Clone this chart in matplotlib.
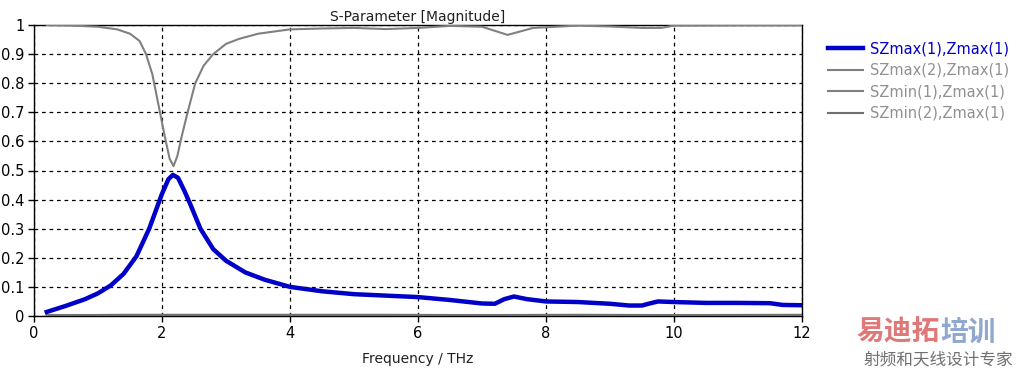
import matplotlib.pyplot as plt
import numpy as np

# blue curve: SZmax(1),Zmax(1)
f_blue = [0.2, 0.5, 0.8, 1.0, 1.2, 1.4, 1.6, 1.8, 1.9, 2.0, 2.1, 2.17, 2.25, 2.35, 2.45, 2.6, 2.8,
          3.0, 3.3, 3.6, 4.0, 4.5, 5.0, 5.5, 6.0, 6.5, 7.0, 7.2, 7.35, 7.5, 7.7, 8.0, 8.5, 9.0,
          9.3, 9.5, 9.6, 9.75, 10.0, 10.5, 11.0, 11.5, 11.7, 12.0]
s_blue = [0.014, 0.035, 0.058, 0.078, 0.105, 0.145, 0.205, 0.3, 0.36, 0.42, 0.47, 0.485, 0.475, 0.43,
          0.38, 0.3, 0.23, 0.19, 0.15, 0.125, 0.1, 0.085, 0.075, 0.07, 0.065, 0.055, 0.043, 0.042,
          0.058, 0.067, 0.058, 0.05, 0.048, 0.042, 0.036, 0.036, 0.042, 0.05, 0.048, 0.045, 0.045,
          0.044, 0.038, 0.037]

# gray curve near 1: SZmax(2),Zmax(1)
f_top = [0.2, 0.6, 1.0, 1.3, 1.5, 1.65, 1.75, 1.85, 1.95, 2.05, 2.12, 2.18, 2.24, 2.3, 2.4, 2.52,
         2.65, 2.8, 3.0, 3.2, 3.5, 4.0, 4.5, 5.0, 5.5, 6.0, 6.5, 7.0, 7.2, 7.4, 7.6, 7.8, 8.5,
         9.0, 9.5, 9.8, 10.0, 11.0, 12.0]
s_top = [1.0, 0.998, 0.994, 0.985, 0.97, 0.945, 0.9, 0.83, 0.72, 0.61, 0.54, 0.515, 0.55, 0.61,
         0.7, 0.8, 0.86, 0.9, 0.935, 0.952, 0.97, 0.985, 0.988, 0.99, 0.986, 0.99, 0.997, 0.994,
         0.98, 0.966, 0.978, 0.99, 0.998, 0.995, 0.99, 0.99, 0.998, 0.999, 0.999]

# gray curves near 0: SZmin(1),Zmax(1) and SZmin(2),Zmax(1)
f_low = [0.2, 1.4, 3.0, 5.5, 6.9, 8.5, 10.0, 12.0]
s_low1 = [0.003, 0.003, 0.003, 0.003, 0.003, 0.003, 0.003, 0.003]
s_low2 = [0.002, 0.004, 0.004, 0.004, 0.003, 0.004, 0.003, 0.004]

labels = ['SZmax(1),Zmax(1)', 'SZmax(2),Zmax(1)', 'SZmin(1),Zmax(1)', 'SZmin(2),Zmax(1)']

blue = '#0000c8'
gray = '#808080'

fig = plt.figure(figsize=(10.16, 3.73), dpi=100)
ax = fig.add_axes([34 / 1016, 57 / 373, 768 / 1016, 291 / 373])

h1, = ax.plot(f_blue, s_blue, color=blue, lw=3.2, zorder=5)
h2, = ax.plot(f_top, s_top, color=gray, lw=1.5, zorder=4)
h3, = ax.plot(f_low, s_low1, color=gray, lw=1.5, zorder=4)
h4, = ax.plot(f_low, s_low2, color='#707070', lw=1.5, zorder=4)

ax.set_xlim(0, 12)
ax.set_ylim(0, 1)
ax.set_xticks([0, 2, 4, 6, 8, 10, 12])
ax.set_yticks(np.arange(0, 1.01, 0.1))
ax.set_yticklabels(['0', '0.1', '0.2', '0.3', '0.4', '0.5', '0.6', '0.7', '0.8', '0.9', '1'])
ax.grid(True, color='black', linestyle=(0, (3, 3)), lw=0.9)
ax.tick_params(labelsize=10.5, length=4, width=1, color='black', direction='out', pad=3)
for s in ax.spines.values():
    s.set_color('black')
    s.set_linewidth(1)

ax.set_title('S-Parameter [Magnitude]', fontsize=10, pad=3, color='#202020')
ax.set_xlabel('Frequency / THz', fontsize=10, labelpad=8, color='#202020')

leg = fig.legend([h1, h2, h3, h4], labels, loc='upper left', bbox_to_anchor=(815 / 1016, 1 - 28 / 373),
                 frameon=False, fontsize=10.5, handlelength=2.4, handletextpad=0.5,
                 labelspacing=0.45, labelcolor=[blue, '#909090', '#909090', '#909090'])

# watermark
cjk = ['Noto Sans CJK SC', 'DejaVu Sans']
fig.text(0.925, 0.108, '易迪拓', color='#e07878', fontsize=20, fontweight='bold', family=cjk,
         ha='right', va='center')
fig.text(0.925, 0.108, '培训', color='#90a8d0', fontsize=20, fontweight='bold', family=cjk,
         ha='left', va='center')
fig.text(0.997, 0.035, '射频和天线设计专家', color='#707070', fontsize=12, family=cjk,
         ha='right', va='center')

fig.savefig('out.png', dpi=100)
